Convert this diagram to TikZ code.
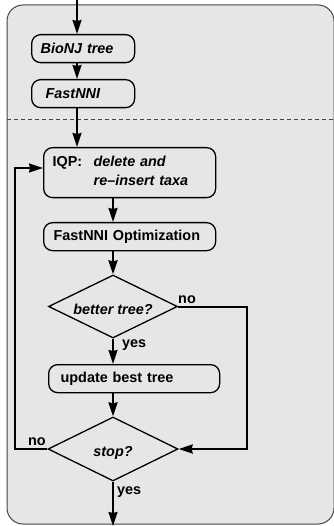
\documentclass[tikz,border=0pt]{standalone}
\usepackage{fontspec}
\setmainfont{Liberation Sans}
\usetikzlibrary{arrows.meta,shapes.geometric}
\definecolor{bgfill}{HTML}{E6E6E6}
\definecolor{bgline}{HTML}{444444}
\begin{document}
\begin{tikzpicture}[x=1pt,y=-1pt,
  every node/.style={font=\fontsize{14.4}{19}\selectfont\bfseries},
  box/.style={draw=black,line width=1.3pt,fill=bgfill,rounded corners=9pt,
    rectangle,minimum height=28pt,align=left,anchor=north west,inner ysep=0pt},
  dia/.style={draw=black,line width=1.3pt,fill=bgfill,diamond,aspect=2,inner sep=0pt,
    text height=15pt,text depth=0pt},
  arr/.style={line width=2pt,-{Stealth[length=14pt,width=9pt,inset=1pt]}},
  lbl/.style={anchor=base west,inner sep=0pt}]
\useasboundingbox (0,0) rectangle (333,526);
\draw[draw=bgline,line width=1pt,fill=bgfill,rounded corners=16pt] (7,5) rectangle (334,524);
\coordinate (dl) at (7,119);
\coordinate (dr) at (333,119);
\draw[bgline,line width=0.8pt,dash pattern=on 4pt off 3pt] (dl) -- (dr);

\node[box,text width=85pt,inner xsep=9pt] (bionj) at (31,34) {\itshape BioNJ tree};
\node[box,text width=75pt,inner xsep=14pt] (fastnni) at (31,79) {\itshape FastNNI};
\node[box,text width=154pt,inner xsep=9pt,minimum height=50pt] (iqp) at (43,147)
  {\begin{tabular}{@{}p{41pt}@{}l@{}}IQP: & \textit{delete and}\\ & \textit{re--insert taxa}\end{tabular}};
\node[box,text width=152pt,inner xsep=10pt] (fno) at (43,222) {FastNNI Optimization};
\node[dia,minimum width=129pt,minimum height=63pt] (better) at (113,306.5) {\itshape better tree?};
\node[box,text width=147pt,inner xsep=12pt] (update) at (48,364) {update best tree};
\node[dia,minimum width=130pt,minimum height=64pt] (stop) at (113,449) {\itshape stop?};

\coordinate (top) at (77,0);
\coordinate (col) at (113,0);
\coordinate (bot) at (113,526);
\coordinate (lp) at (15,168);
\coordinate (rp) at (247,306.5);

\draw[arr] (top) -- (top |- bionj.north);
\draw[arr] (bionj.south -| top) -- (fastnni.north -| top);
\draw[arr] (fastnni.south -| top) -- (iqp.north -| top);
\draw[arr] (iqp.south -| col) -- (fno.north -| col);
\draw[arr] (fno.south -| col) -- (better.north);
\draw[arr] (better.south) -- (update.north -| col);
\draw[arr] (update.south -| col) -- (stop.north);
\draw[arr] (stop.south) -- (bot);
\draw[arr,rounded corners=0pt] (stop.west) -| (lp) -- (lp -| iqp.west);
\draw[arr] (better.east) -- (rp) |- (stop.east);

\node[lbl] (no1) at (178,303) {no};
\node[lbl] (yes1) at (122,347) {yes};
\node[lbl] (no2) at (28,445) {no};
\node[lbl] (yes2) at (117,494) {yes};
\end{tikzpicture}
\end{document}
